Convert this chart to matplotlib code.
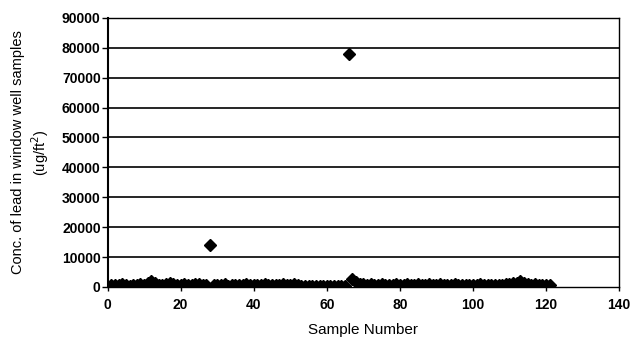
import matplotlib
matplotlib.use("Agg")
import matplotlib.pyplot as plt
import numpy as np

plt.rcParams['font.family'] = ['Liberation Sans', 'DejaVu Sans']

sample_number = list(range(1, 122))
lead_conc = [
    500, 800, 600, 900, 700, 400, 600, 800, 1100, 700,
    1300, 2000, 1200, 800, 500, 1000, 1400, 900, 600, 700,
    1100, 800, 500, 900, 1000, 600, 700, 14000, 800, 500,
    700, 900, 400, 600, 800, 500, 700, 900, 600, 800,
    500, 700, 900, 600, 700, 500, 800, 1000, 600, 700,
    1100, 800, 400, 300, 300, 200, 300, 250, 300, 200,
    300, 250, 200, 300, 400, 78000, 2600, 1500, 900, 1100,
    700, 900, 600, 800, 1000, 700, 600, 800, 900, 500,
    700, 900, 600, 800, 1000, 700, 600, 1100, 800, 600,
    900, 700, 500, 800, 1000, 700, 600, 500, 700, 800,
    600, 900, 700, 500, 600, 700, 800, 700, 900, 1000,
    1200, 1400, 2100, 1300, 1000, 800, 900, 600, 700, 800,
    500,
]
x_ticks = [0, 20, 40, 60, 80, 100, 120, 140]
y_ticks = [0, 10000, 20000, 30000, 40000, 50000, 60000, 70000, 80000, 90000]

fig = plt.figure(figsize=(6.33, 3.38), dpi=100)
ax = fig.add_axes([0.170, 0.151, 0.808, 0.796])

for yv in y_ticks[1:-1]:
    ax.axhline(yv, color='black', lw=1.2, zorder=1)

ax.plot(sample_number, lead_conc, linestyle='none', marker='D', markersize=6,
        color='black', zorder=3)

ax.set_xlim(0, 140)
ax.set_ylim(0, 90000)
ax.set_xticks(x_ticks)
ax.set_yticks(y_ticks)
ax.set_xticklabels([str(v) for v in x_ticks], fontweight='bold', fontsize=10)
ax.set_yticklabels([str(v) for v in y_ticks], fontweight='bold', fontsize=10)
ax.tick_params(axis='y', direction='out', length=4, width=1, pad=1)
ax.tick_params(axis='x', direction='out', length=3, width=1, pad=5)

for s in ax.spines.values():
    s.set_color('black')
ax.spines['left'].set_linewidth(1.5)
ax.spines['bottom'].set_linewidth(1.0)
ax.spines['right'].set_linewidth(1.0)
ax.spines['top'].set_linewidth(1.0)
ax.spines['top'].set_linestyle((0, (4, 1)))

ax.set_xlabel('Sample Number', fontsize=11, labelpad=8)
ax.set_ylabel('Conc. of lead in window well samples\n(ug/ft$^2$)', fontsize=10.5,
              labelpad=8, linespacing=1.25)

fig.savefig('out.png', dpi=100)
